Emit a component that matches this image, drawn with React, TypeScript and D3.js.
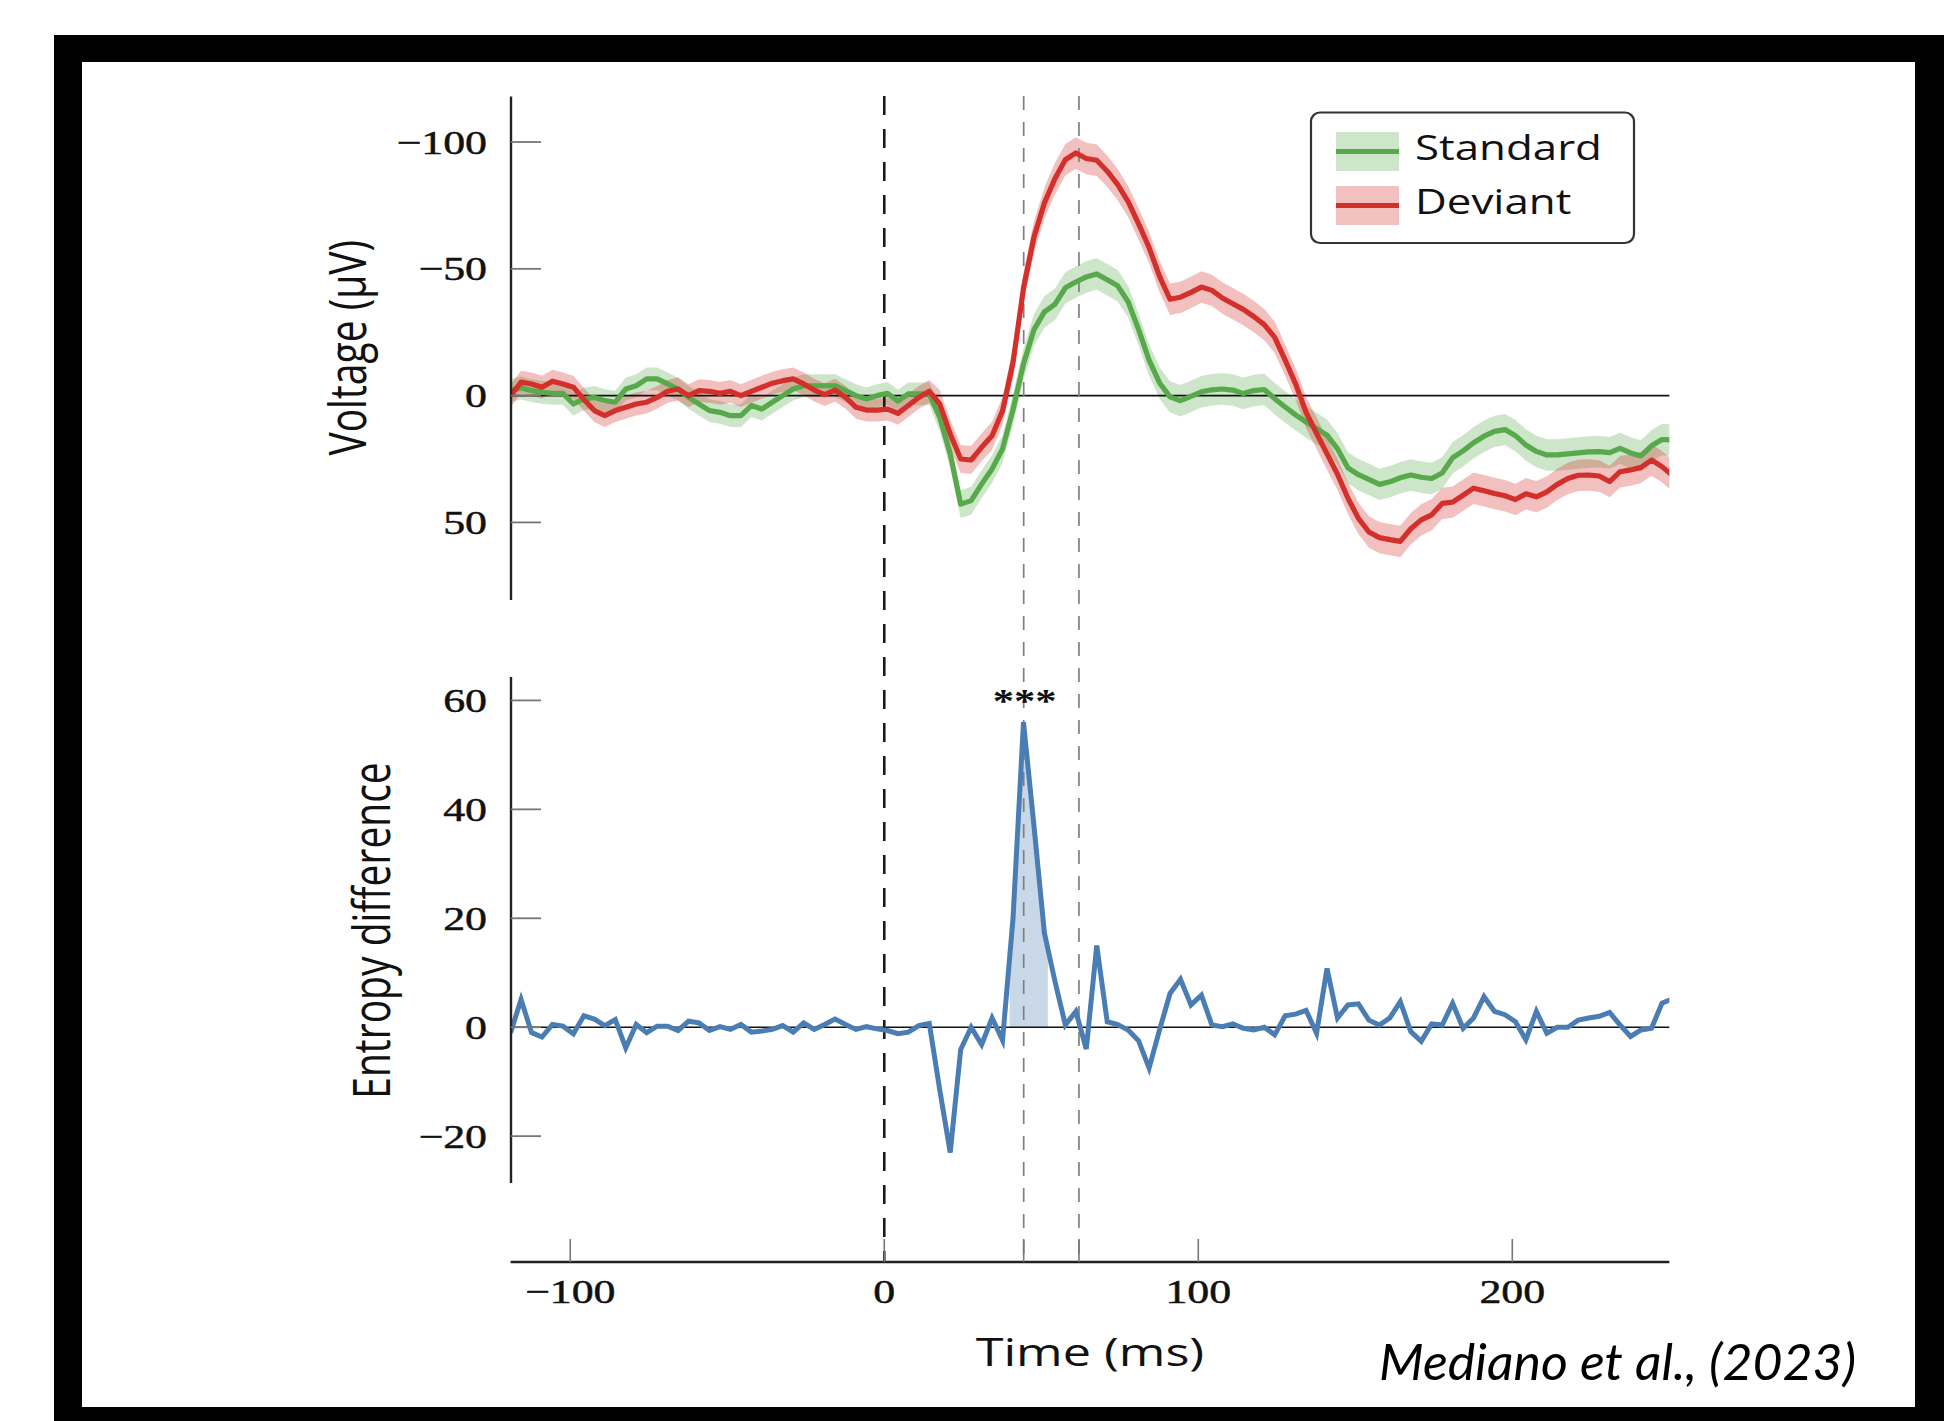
import React from 'react';
import * as d3 from 'd3';

// ---- data ----
const T_START = -119; // ms, first sample
const T_STEP = 1000 / 300; // ms between samples

const STANDARD = [
  -2, -3, -2, -1.3, -0.9, -0.9, 3.3, 1.3, 0.7, 2,
  2.6, -2.6, -3.9, -6.6, -6.6, -4.6, -2.6, 0.7, 3.3, 5.9,
  6.6, 7.9, 7.9, 3.9, 5.3, 2.6, 0, -2.6, -3.9, -3.9,
  -3.9, -3.9, -2, 0, 1.3, 0, -0.9, 2.2, -0.7, -0.7,
  -0.7, 8.6, 23, 42.8, 41.4, 34.9, 28.9, 21, 5.5, -12.5,
  -26, -33, -36, -42.5, -44.8, -46.8, -48, -45.7, -43.3, -37,
  -26, -14, -5, 0.5, 2, 0.3, -1.5, -2.3, -2.6, -2.2,
  -0.8, -2, -2.4, 1.2, 4.5, 7.6, 10.4, 13, 15.6, 21,
  28.5, 31.2, 33, 35, 34, 32.4, 31.3, 32.2, 32.7, 30.5,
  24.5, 21.8, 18.6, 16, 14.1, 13.4, 15.8, 19.5, 22, 23.4,
  23.4, 23, 22.6, 22.2, 22.1, 22.5, 20.8, 22.6, 23.8, 19.8,
  17.3, 17.5,
];

const DEVIANT = [
  0, -5.3, -4.6, -3.3, -5.7, -4.6, -3.3, 1.5, 5.9, 7.9,
  5.9, 4.6, 3.3, 2.6, 0.7, -1.7, -2.6, 0, -2, -1.7,
  -0.9, -1.7, 0, -1.7, -3.3, -4.9, -5.9, -6.6, -4.6, -2.2,
  -0.4, -2.2, 0.7, 4.6, 5.7, 5.7, 5.3, 7.0, 3.9, 0.7,
  -1.7, 3.3, 15.1, 25, 25.4, 20.4, 15.8, 6, -13, -42.4,
  -62.5, -76, -85.5, -93, -95.7, -93.5, -92.8, -88.5, -83.2, -76.5,
  -67.7, -58.4, -47, -38, -38.8, -40.7, -42.8, -41.5, -38.5, -36.2,
  -34, -31.2, -28, -23, -14, -4.6, 6.6, 14.9, 23, 31,
  40.5, 48.4, 53.8, 56, 56.8, 57.5, 52.5, 49, 47, 42.5,
  42, 39.3, 36.5, 37.5, 38.6, 39.5, 41, 38.7, 39.9, 38,
  35, 32.7, 31.4, 31.3, 31.7, 33.9, 30, 29.3, 28.3, 25.4,
  28, 31.5,
];

const STANDARD_SEM = [
  4.5, 4.5, 4.5, 4.5, 4.5, 4.5, 4.5, 4.5, 4.5, 4.5,
  4.5, 4.5, 4.5, 4.5, 4.5, 4.5, 4.5, 4.5, 4.5, 4.5,
  4.5, 4.5, 4.5, 4.5, 4.5, 4.5, 4.5, 4.5, 4.5, 4.5,
  4.5, 4.5, 4.5, 4.5, 4.5, 4.5, 4.5, 4.5, 4.5, 4.5,
  4.5, 5.5, 5.5, 5.5, 5.5, 5.5, 5.5, 5.5, 6.2, 6.2,
  6.2, 6.2, 6.2, 6.2, 6.2, 6.2, 6.2, 6.2, 6.2, 6.2,
  6.2, 6.2, 6.2, 6.2, 6.2, 6.2, 6.2, 6.2, 6.2, 6.2,
  6.2, 6.2, 6.2, 6.2, 6.2, 6.2, 6.2, 6.2, 6.2, 6.2,
  6.2, 6.2, 6.2, 6.2, 6.2, 6.2, 6.2, 6.2, 6.2, 6.2,
  6.2, 6.2, 6.2, 6.2, 6.2, 6.2, 6.2, 6.2, 6.2, 6.2,
  6.2, 6.2, 6.2, 6.2, 6.2, 6.2, 6.2, 6.2, 6.2, 6.2,
  6.2, 6.2,
];

const DEVIANT_SEM = [
  4.5, 4.5, 4.5, 4.5, 4.5, 4.5, 4.5, 4.5, 4.5, 4.5,
  4.5, 4.5, 4.5, 4.5, 4.5, 4.5, 4.5, 4.5, 4.5, 4.5,
  4.5, 4.5, 4.5, 4.5, 4.5, 4.5, 4.5, 4.5, 4.5, 4.5,
  4.5, 4.5, 4.5, 4.5, 4.5, 4.5, 4.5, 4.5, 4.5, 4.5,
  4.5, 5.5, 5.5, 5.5, 5.5, 5.5, 5.5, 5.5, 6.2, 6.2,
  6.2, 6.2, 6.2, 6.2, 6.2, 6.2, 6.2, 6.2, 6.2, 6.2,
  6.2, 6.2, 6.2, 6.2, 6.2, 6.2, 6.2, 6.2, 6.2, 6.2,
  6.2, 6.2, 6.2, 6.2, 6.2, 6.2, 6.2, 6.2, 6.2, 6.2,
  6.2, 6.2, 6.2, 6.2, 6.2, 6.2, 6.2, 6.2, 6.2, 6.2,
  6.2, 6.2, 6.2, 6.2, 6.2, 6.2, 6.2, 6.2, 6.2, 6.2,
  6.2, 6.2, 6.2, 6.2, 6.2, 6.2, 6.2, 6.2, 6.2, 6.2,
  6.2, 6.2,
];

const ENTROPY = [
  -1.0, 5.1, -1.0, -1.8, 0.5, 0.2, -1.2, 2.1, 1.5, 0.3,
  1.4, -3.8, 0.5, -1.0, 0.2, 0.2, -0.6, 1.1, 0.8, -0.6,
  0.1, -0.4, 0.5, -0.9, -0.7, -0.4, 0.3, -0.9, 0.8, -0.4,
  0.5, 1.5, 0.5, -0.4, 0.1, -0.3, -0.6, -1.2, -0.9, 0.3,
  0.7, -11.5, -23, -4.1, 0.0, -3.2, 1.7, -2.4, 20, 56,
  37, 17.3, 8.5, 0.4, 2.9, -4, 15, 1.0, 0.5, -0.5,
  -2.5, -7.5, -0.5, 6.2, 8.8, 4.1, 5.9, 0.4, 0.1, 0.6,
  -0.2, -0.5, 0, -1.4, 2.1, 2.4, 3.1, -1.1, 10.8, 1.7,
  4.1, 4.3, 1.3, 0.4, 1.7, 4.7, -0.8, -2.6, 0.6, 0.4,
  4.4, -0.2, 1.7, 5.6, 2.9, 2.3, 1.0, -2.3, 2.9, -1.1,
  0, 0, 1.3, 1.7, 2.0, 2.7, 0.4, -1.7, -0.5, -0.2,
  4.4, 5.2,
];

const TIMES = ENTROPY.map((_, i) => T_START + i * T_STEP);

const SIG_WINDOW = [39.9, 52.1]; // ms, shaded significant cluster
const STIM_LINE = 0;
const MARK_LINES = [44.4, 62];
const X_TICKS = [-100, 0, 100, 200];
const X_MINOR_TICKS = [44.4, 62];
const UPPER_TICKS = [-100, -50, 0, 50];
const LOWER_TICKS = [60, 40, 20, 0, -20];
const SERIES_NAMES = ['Standard', 'Deviant'];

const GREEN = '#58a84c';
const RED = '#d4302b';
const BLUE = '#4a7db4';
const SX = 1.29; // horizontal stretch of the pasted figure

const fmt = (v: number) => (v < 0 ? '\u2212' + Math.abs(v) : String(v));

export default function App() {
  const x = d3.scaleLinear().domain([-119, 250]).range([510.6, 1669.3]);
  const yU = d3.scaleLinear().domain([-118, 80.6]).range([96.4, 600]);
  const yL = d3.scaleLinear().domain([64.3, -28.6]).range([677, 1183]);
  const idx = d3.range(TIMES.length);

  const band = (vals: number[], sem: number[]) =>
    d3
      .area<number>()
      .x((i) => x(TIMES[i]))
      .y0((i) => yU(vals[i] - sem[i]))
      .y1((i) => yU(vals[i] + sem[i]))(idx) as string;
  const line = (vals: number[], y: any) =>
    d3
      .line<number>()
      .x((i) => x(TIMES[i]))
      .y((i) => y(vals[i]))(idx) as string;

  const interp = (t: number) => {
    const f = (t - T_START) / T_STEP;
    const i0 = Math.floor(f);
    const r = f - i0;
    return ENTROPY[i0] * (1 - r) + ENTROPY[i0 + 1] * r;
  };
  const sigPts: [number, number][] = [[SIG_WINDOW[0], interp(SIG_WINDOW[0])]];
  idx.forEach((i) => {
    if (TIMES[i] > SIG_WINDOW[0] && TIMES[i] < SIG_WINDOW[1]) sigPts.push([TIMES[i], ENTROPY[i]]);
  });
  sigPts.push([SIG_WINDOW[1], interp(SIG_WINDOW[1])]);
  const sigArea = d3
    .area<[number, number]>()
    .x((d) => x(d[0]))
    .y0(() => yL(0))
    .y1((d) => yL(d[1]))(sigPts) as string;

  const x0 = x(-119);
  const x1 = x(250);
  const serif = "'Liberation Serif', 'Times New Roman', serif";
  const sans = "'Open Sans', 'DejaVu Sans', sans-serif";
  const axisColor = '#222';
  const tickColor = '#777';
  const xAxisY = 1262;
  const dashTop = 96;
  const serifProps = { fontFamily: serif, fontSize: 34, fill: '#111', stroke: '#111', strokeWidth: 0.5 };

  return (
    <svg width={1944} height={1421} style={{ position: 'absolute', left: 0, top: 0, background: '#fff' }}>
      <defs>
        <clipPath id="clipU">
          <rect x={x0} y={yU(-118)} width={x1 - x0} height={yU(80.6) - yU(-118)} />
        </clipPath>
        <clipPath id="clipL">
          <rect x={x0} y={yL(64.3)} width={x1 - x0} height={yL(-28.6) - yL(64.3)} />
        </clipPath>
      </defs>
      <rect x={54} y={35} width={1890} height={1386} fill="#000" />
      <rect x={82} y={62} width={1833} height={1345} fill="#fff" />

      <g clipPath="url(#clipU)">
        <path d={band(STANDARD, STANDARD_SEM)} fill={GREEN} fillOpacity={0.3} />
        <path d={band(DEVIANT, DEVIANT_SEM)} fill={RED} fillOpacity={0.3} />
      </g>
      <line x1={x0} x2={x1} y1={yU(0)} y2={yU(0)} stroke="#111" strokeWidth={1.6} />

      <path d={sigArea} fill={BLUE} fillOpacity={0.3} />
      <line x1={x0} x2={x1} y1={yL(0)} y2={yL(0)} stroke="#111" strokeWidth={1.6} />

      <line x1={x(STIM_LINE)} x2={x(STIM_LINE)} y1={dashTop} y2={xAxisY} stroke="#1a1a1a" strokeWidth={2.6} strokeDasharray="19 14" />
      {MARK_LINES.map((t) => (
        <line key={t} x1={x(t)} x2={x(t)} y1={dashTop} y2={xAxisY} stroke="#808080" strokeWidth={1.7} strokeDasharray="14 12" />
      ))}

      <g clipPath="url(#clipU)">
        <path d={line(STANDARD, yU)} fill="none" stroke={GREEN} strokeWidth={5.2} strokeLinejoin="round" />
        <path d={line(DEVIANT, yU)} fill="none" stroke={RED} strokeWidth={5.2} strokeLinejoin="round" />
      </g>
      <g clipPath="url(#clipL)">
        <path d={line(ENTROPY, yL)} fill="none" stroke={BLUE} strokeWidth={5} />
      </g>

      <line x1={511} x2={511} y1={yU(-118)} y2={yU(80.6)} stroke={axisColor} strokeWidth={2.4} />
      {UPPER_TICKS.map((v) => (
        <g key={'u' + v}>
          <line x1={511} x2={541} y1={yU(v)} y2={yU(v)} stroke={tickColor} strokeWidth={1.8} />
          <text transform={`translate(487,${yU(v) + 11.5}) scale(${SX},1)`} textAnchor="end" {...serifProps}>
            {fmt(v)}
          </text>
        </g>
      ))}
      <text transform={`translate(346,347.8) scale(${SX},1) rotate(-90)`} textAnchor="middle" dominantBaseline="central" fontFamily={sans} fontSize={39} fill="#111">
        Voltage (μV)
      </text>

      <line x1={511} x2={511} y1={yL(64.3)} y2={yL(-28.6)} stroke={axisColor} strokeWidth={2.4} />
      {LOWER_TICKS.map((v) => (
        <g key={'l' + v}>
          <line x1={511} x2={541} y1={yL(v)} y2={yL(v)} stroke={tickColor} strokeWidth={1.8} />
          <text transform={`translate(487,${yL(v) + 12}) scale(${SX},1)`} textAnchor="end" {...serifProps}>
            {fmt(v)}
          </text>
        </g>
      ))}
      <text transform={`translate(370,930.5) scale(${SX},1) rotate(-90)`} textAnchor="middle" dominantBaseline="central" fontFamily={sans} fontSize={39} fill="#111">
        Entropy difference
      </text>

      <text transform={`translate(${x(44.4) + 1},712) scale(${SX},1)`} textAnchor="middle" fontFamily={serif} fontSize={33} fontWeight="bold" fill="#111">
        ***
      </text>

      <line x1={x0} x2={x1} y1={xAxisY} y2={xAxisY} stroke={axisColor} strokeWidth={2.4} />
      {[...X_TICKS, ...X_MINOR_TICKS].map((t) => (
        <line key={'xt' + t} x1={x(t)} x2={x(t)} y1={xAxisY} y2={xAxisY - 23} stroke={tickColor} strokeWidth={1.6} />
      ))}
      {X_TICKS.map((t) => (
        <text key={'xl' + t} transform={`translate(${x(t)},1303) scale(${SX},1)`} textAnchor="middle" {...serifProps}>
          {fmt(t)}
        </text>
      ))}
      <text transform={`translate(${(x0 + x1) / 2},1366) scale(${SX},1)`} textAnchor="middle" fontFamily={sans} fontSize={39} fill="#111">
        Time (ms)
      </text>

      <rect x={1311} y={112.5} width={323} height={130.5} rx={9} fill="#fff" stroke="#333" strokeWidth={2.2} />
      {SERIES_NAMES.map((name, k) => {
        const c = k === 0 ? GREEN : RED;
        const cy = k === 0 ? 151.5 : 205.5;
        return (
          <g key={name}>
            <rect x={1336} y={cy - 19.5} width={63} height={39} fill={c} fillOpacity={0.3} />
            <line x1={1336} x2={1399} y1={cy} y2={cy} stroke={c} strokeWidth={5} />
            <text transform={`translate(1415,${cy + 8.5}) scale(${SX},1)`} fontFamily={sans} fontSize={34} fill="#111">
              {name}
            </text>
          </g>
        );
      })}

      <text x={1379} y={1380} fontFamily="Lato, 'Open Sans', sans-serif" fontStyle="italic" fontSize={50} textLength={477} lengthAdjust="spacingAndGlyphs" fill="#000">
        Mediano et al., (2023)
      </text>
    </svg>
  );
}
